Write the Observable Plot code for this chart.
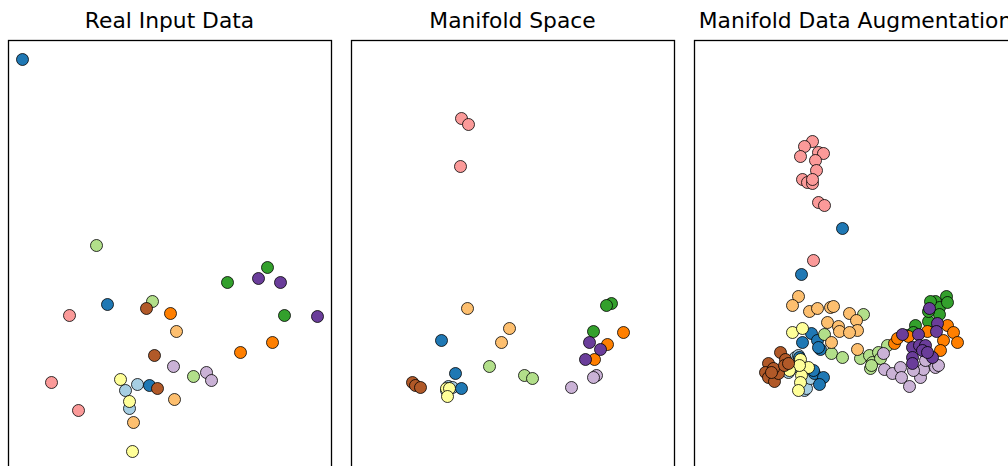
<!DOCTYPE html>
<html>
<head>
<meta charset="utf-8">
<script src="https://cdn.jsdelivr.net/npm/d3@7"></script>
<script src="https://cdn.jsdelivr.net/npm/@observablehq/plot@0.6"></script>
<style>
  html, body { margin: 0; padding: 0; background: #fff; overflow: hidden; }
  #wrap { position: relative; width: 1008px; height: 466px; overflow: hidden; }
  .title { position: absolute; top: 8px; font-family: "DejaVu Sans", sans-serif; font-size: 21.8px; line-height: 25px; color: #000; white-space: nowrap; transform: translateX(-50%); }
  .panel { position: absolute; top: 38px; }
  .panel svg { max-width: none !important; }
</style>
</head>
<body>
<div id="wrap"></div>
<script>
// class index -> Paired colormap
const classes = [0,1,2,3,4,5,6,7,8,9,10,11];
const palette = ["#a6cee3","#1f78b4","#b2df8a","#33a02c","#fb9a99","#e31a1c","#fdbf6f","#ff7f00","#cab2d6","#6a3d9a","#ffff99","#b15928"];

const titles = ["Real Input Data", "Manifold Space", "Manifold Data Augmentation"];

// [x, y, class]
const realData = [
  [129,116,0],[117,110,0],[121,92,0],
  [14,441,1],[99,196,1],[141,115,1],
  [88,255,2],[144,199,2],[185,124,2],
  [259,233,3],[219,218,3],[276,185,3],
  [61,185,4],[43,118,4],[70,90,4],
  [168,169,6],[166,101,6],[125,78,6],
  [162,187,7],[264,158,7],[232,148,7],
  [165,134,8],[198,128,8],[203,120,8],
  [250,222,9],[272,218,9],[309,184,9],
  [112,121,10],[121,99,10],[124,49,10],
  [138,192,11],[146,145,11],[149,112,11]
];

const manifoldData = [
  [97,114,0],[101,113,0],[95,110,0],
  [90,160,1],[104,127,1],[110,112,1],
  [138,134,2],[173,125,2],[181,122,2],
  [260,197,3],[255,195,3],[242,169,3],
  [110,382,4],[117,376,4],[109,334,4],
  [116,192,6],[158,172,6],[150,158,6],
  [272,168,7],[256,156,7],[243,141,7],
  [245,125,8],[242,123,8],[220,113,8],
  [238,158,9],[249,151,9],[234,141,9],
  [95,112,10],[98,112,10],[96,104,10],
  [61,118,11],[64,115,11],[69,113,11]
];

const augmentedData = [
  [101,143,0],[104,145,0],[98,133,0],[111,120,0],[110,110,0],[112,112,0],[116,122,0],[94,128,0],
  [148,272,1],[107,226,1],[117,167,1],[108,158,1],[123,160,1],[126,151,1],[105,143,1],[120,127,1],[129,123,1],[125,116,1],[124,153,1],[119,130,1],
  [169,186,2],[130,166,2],[137,147,2],[148,143,2],[166,142,2],[175,145,2],[184,148,2],[193,155,2],[176,132,2],[178,138,2],[186,142,2],[177,135,2],
  [252,204,3],[241,199,3],[245,193,3],[253,198,3],[245,186,3],[234,179,3],[221,175,3],[213,165,3],[234,189,3],[236,199,3],[219,168,3],
  [118,359,4],[110,354,4],[106,344,4],[124,348,4],[129,347,4],[121,340,4],[122,330,4],[108,321,4],[113,318,4],[118,317,4],[118,321,4],[124,298,4],[130,295,4],[119,240,4],
  [104,204,6],[98,195,6],[115,189,6],[123,192,6],[136,193,6],[139,194,6],[155,187,6],[162,180,6],[133,178,6],[144,174,6],[145,169,6],[163,170,6],[155,168,6],[137,158,6],[163,151,6],
  [253,175,7],[259,168,7],[263,158,7],[249,160,7],[233,169,7],[200,157,7],[214,164,7],[246,150,7],[203,162,7],
  [189,147,8],[190,131,8],[198,127,8],[206,133,8],[207,123,8],[215,114,8],[226,123,8],[229,131,8],[241,133,8],[244,135,8],[219,130,8],[231,140,8],
  [235,192,9],[243,177,9],[208,166,9],[224,166,9],[218,153,9],[225,155,9],[231,155,9],[228,150,9],[238,143,9],[218,143,9],[218,137,9],[233,148,9],[242,169,9],
  [98,168,10],[108,172,10],[106,141,10],[114,133,10],[107,125,10],[106,118,10],[105,135,10],[104,110,10],[95,130,10],
  [86,148,11],[91,141,11],[74,137,11],[71,128,11],[74,123,11],[80,119,11],[84,127,11],[79,132,11],[90,135,11],[77,128,11],[94,137,11]
];

const panels = [realData, manifoldData, augmentedData];
const panelLeft = [8, 351, 694];
const panelW = 323, panelH = 460, m = 2;

const wrap = document.getElementById("wrap");
panels.forEach((data, i) => {
  const rows = data.map(([x, y, c]) => ({x, y, c})).sort((a, b) => a.c - b.c);
  const chart = Plot.plot({
    width: panelW + 2 * m,
    height: panelH + 2 * m,
    marginLeft: m, marginRight: m, marginTop: m, marginBottom: m,
    x: {domain: [0, panelW], axis: null},
    y: {domain: [0, panelH], axis: null},
    color: {domain: classes, range: palette, type: "ordinal"},
    marks: [
      Plot.dot(rows, {x: "x", y: "y", fill: "c", r: 6, stroke: "#000", strokeWidth: 0.8}),
      Plot.frame({stroke: "#000", strokeWidth: 1.3})
    ]
  });
  chart.style.maxWidth = "none";
  const div = document.createElement("div");
  div.className = "panel";
  div.style.left = (panelLeft[i] - m) + "px";
  div.style.width = (panelW + 2 * m) + "px";
  div.appendChild(chart);
  wrap.appendChild(div);

  const t = document.createElement("div");
  t.className = "title";
  t.textContent = titles[i];
  t.style.left = (panelLeft[i] + panelW / 2) + "px";
  wrap.appendChild(t);
});
</script>
</body>
</html>
